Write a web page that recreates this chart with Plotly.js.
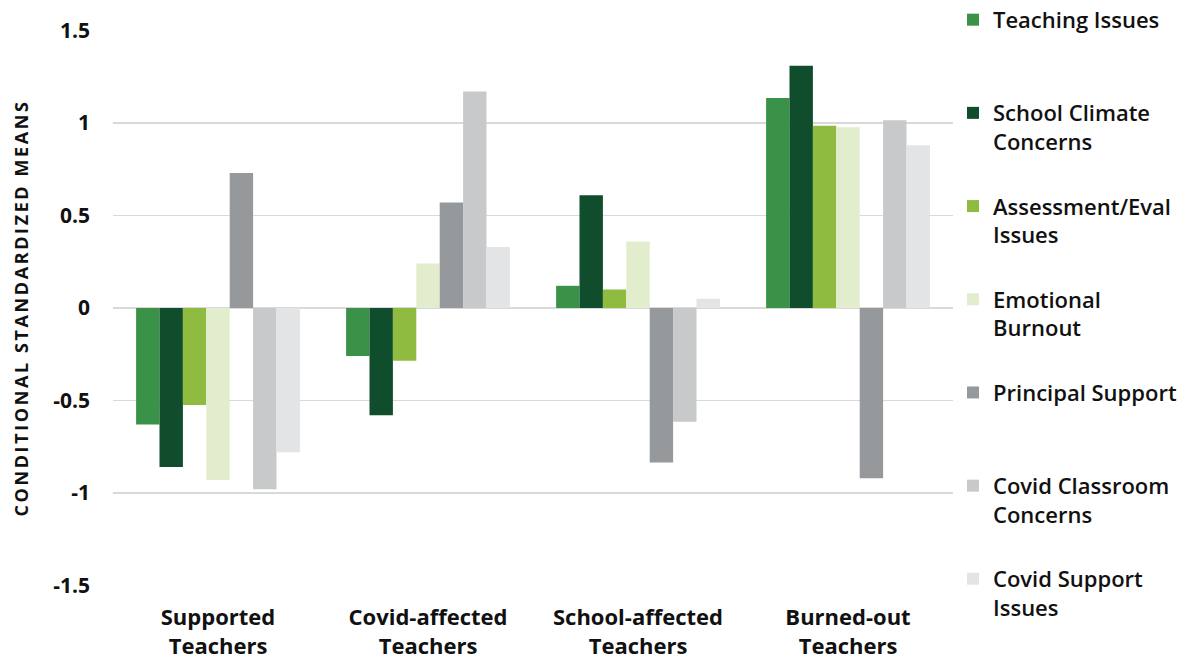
<!DOCTYPE html>
<html>
<head>
<meta charset="utf-8">
<script src="https://cdn.plot.ly/plotly-3.0.1.min.js"></script>
<style>html,body{margin:0;padding:0;background:#fff;}#chart{width:1203px;height:667px;}
.ytitle{letter-spacing:2.6px;}</style>
</head>
<body>
<div id="chart"></div>
<script>
const categories = ["Supported<br>Teachers", "Covid-affected<br>Teachers", "School-affected<br>Teachers", "Burned-out<br>Teachers"];
const seriesNames = ["Teaching Issues<br> ", "School Climate<br>Concerns", "Assessment/Eval<br>Issues", "Emotional<br>Burnout", "Principal Support<br> ", "Covid Classroom<br>Concerns", "Covid Support<br>Issues"];
const teachingIssues = [-0.63, -0.26, 0.12, 1.135];
const schoolClimate = [-0.86, -0.58, 0.61, 1.31];
const assessmentEval = [-0.525, -0.285, 0.10, 0.985];
const emotionalBurnout = [-0.93, 0.24, 0.36, 0.977];
const principalSupport = [0.73, 0.57, -0.835, -0.92];
const covidClassroom = [-0.98, 1.17, -0.615, 1.015];
const covidSupport = [-0.78, 0.33, 0.05, 0.88];
const colors = ["#3a9248", "#0f4d2c", "#8fbb40", "#e1edcd", "#95999c", "#c8c9cb", "#e3e4e6"];

const seriesValues = [teachingIssues, schoolClimate, assessmentEval, emotionalBurnout, principalSupport, covidClassroom, covidSupport];
const traces = seriesValues.map((vals, i) => ({
  type: "bar",
  x: categories,
  y: vals,
  name: seriesNames[i],
  legendgroup: "g" + i,
  marker: {color: colors[i], line: {width: 0}},
  hoverinfo: "x+y"
}));

const FONT = "'Open Sans', Lato, sans-serif";
const layout = {
  width: 1203,
  height: 667,
  margin: {l: 113, r: 250, t: 30, b: 81, autoexpand: false},
  paper_bgcolor: "#ffffff",
  plot_bgcolor: "#ffffff",
  font: {family: FONT, color: "#111111"},
  barmode: "group",
  bargap: 0.22,
  bargroupgap: 0,
  xaxis: {
    showgrid: false,
    showline: false,
    zeroline: false,
    ticks: "",
    tickfont: {size: 22, family: FONT, weight: "bold", color: "#111"},
    ticklabelstandoff: 16
  },
  yaxis: {
    range: [-1.503, 1.503],
    tickvals: [-1.5, -1, -0.5, 0, 0.5, 1, 1.5],
    ticktext: ["-1.5", "-1", "-0.5", "0", "0.5", "1", "1.5"],
    showgrid: true,
    gridcolor: "#d9d9d9",
    gridwidth: 1.5,
    zeroline: true,
    zerolinecolor: "#d9d9d9",
    zerolinewidth: 1.5,
    showline: false,
    ticks: "",
    tickfont: {size: 21, family: FONT, weight: "bold", color: "#111"},
    ticklabelstandoff: 22,
    title: {
      text: "CONDITIONAL STANDARDIZED MEANS",
      font: {size: 18, family: FONT, weight: "bold", color: "#111"},
      standoff: 19
    }
  },
  legend: {
    x: 1.0,
    xanchor: "left",
    y: 1.056,
    yanchor: "top",
    valign: "top",
    traceorder: "grouped",
    tracegroupgap: 33,
    itemwidth: 30,
    maxheight: 700,
    font: {size: 22, family: FONT, weight: 600, color: "#111"},
    bgcolor: "rgba(0,0,0,0)"
  },
  showlegend: true
};

Plotly.newPlot("chart", traces, layout, {displayModeBar: false, staticPlot: true});
</script>
</body>
</html>
